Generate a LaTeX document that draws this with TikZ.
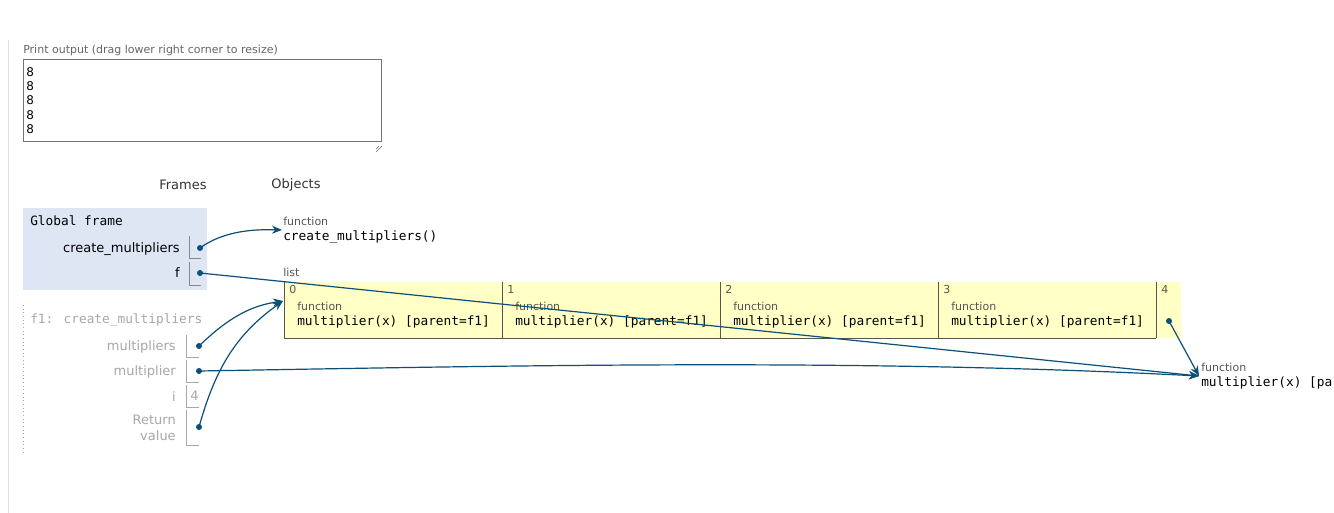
\documentclass[tikz,border=0pt]{standalone}
\usepackage{fontspec}
\setmainfont{DejaVu Sans}
\newfontfamily\monof{DejaVu Sans Mono}
\usetikzlibrary{arrows.meta}
\definecolor{arrowc}{HTML}{0B4F7A}
\definecolor{gfill}{HTML}{DDE6F2}
\definecolor{lyellow}{HTML}{FFFFC6}
\definecolor{txtgrey}{HTML}{555555}
\definecolor{inact}{HTML}{A8A8A8}
\definecolor{boxline}{HTML}{888888}
\definecolor{listline}{HTML}{555555}
\tikzset{
  lbl/.style={inner sep=0, font=\fontsize{9.75}{11.5}\selectfont, text=black},
  small/.style={inner sep=0, font=\fontsize{8.25}{10}\selectfont, text=txtgrey},
  mono/.style={inner sep=0, font=\monof\fontsize{9.6}{11}\selectfont, text=black},
  ptr/.style={draw=arrowc, line width=0.9pt, -{Stealth[length=7.5pt,width=6pt]}},
  dotn/.style={circle, fill=arrowc, inner sep=0, minimum size=4.5pt},
  gline/.style={draw=boxline, line width=0.75pt},
  iline/.style={draw=inact, line width=0.75pt},
}
\begin{document}
\begin{tikzpicture}[x=0.75pt,y=-0.75pt]
\clip (0,0) rectangle (1334,513);
\fill[white] (0,0) rectangle (1334,513);
% left rule
\draw[draw=black!12, line width=0.75pt] (8,40) -- (8,513);
% print output
\node[small, anchor=west, text=black!60] (ptitle) at (23,50) {Print output (drag lower right corner to resize)};
\draw[draw=black!55, line width=0.75pt, fill=white] (23,60) rectangle (381,142);
\foreach \yy/\nm in {72/a,86/b,100/c,115/d,129/e}{
  \node[lbl, anchor=west, font=\fontsize{9}{10}\selectfont] (out\nm) at (26,\yy) {8};
}
\foreach \k in {0,3,6}{
  \draw[black!60, line width=0.5pt] (382-\k,146) -- (376,152-\k);
}
% headings
\node[lbl, text=black!80] (frames) at (183,185) {Frames};
\node[lbl, text=black!80] (objects) at (296,185) {Objects};
% global frame
\fill[gfill] (23,208) rectangle (207,290);
\node[mono, anchor=west] (gtitle) at (30,221) {Global frame};
\node[lbl, anchor=east] (gcm) at (180,249) {create\_multipliers};
\draw[gline] (189,236) -- (189,259) -- (201,259);
\node[dotn] (dcm) at (200,248) {};
\node[lbl, anchor=east] (gf) at (180,273) {f};
\draw[gline] (189,262) -- (189,285) -- (201,285);
\node[dotn] (df) at (200,273) {};
% f1 frame
\draw[draw=inact, line width=0.75pt, dotted] (23,305) -- (23,452);
\node[mono, anchor=west, text=inact] (ftitle) at (30,320) {f1: create\_multipliers};
\node[lbl, anchor=east, text=inact] (fms) at (176,347) {multipliers};
\draw[iline] (186,335) -- (186,357) -- (199,357);
\node[dotn] (dms) at (199,346) {};
\node[lbl, anchor=east, text=inact] (fm) at (176,372) {multiplier};
\draw[iline] (186,360) -- (186,382) -- (199,382);
\node[dotn] (dm) at (199,371) {};
\node[lbl, anchor=east, text=inact] (fi) at (176,397) {i};
\draw[iline] (186,385) -- (186,407) -- (199,407);
\node[lbl, anchor=west, text=inact] (fiv) at (190,396) {4};
\node[lbl, anchor=east, align=right, text=inact] (frv) at (176,428) {Return\\value};
\draw[iline] (186,410) -- (186,445) -- (199,445);
\node[dotn] (drv) at (199,427) {};
% function object create_multipliers
\node[small, anchor=west] (fn1lab) at (283,221) {function};
\node[mono, anchor=west] (fn1) at (283,237) {create\_multipliers()};
\coordinate (fn1tip) at (282,230);
% list
\node[small, anchor=west] (listlab) at (283,272) {list};
\fill[lyellow] (284,282) rectangle (1181,338);
\draw[draw=listline, line width=0.75pt] (284,282) -- (284,338) -- (1156,338);
\foreach \xx in {502,720,938,1156}{
  \draw[draw=listline, line width=0.75pt] (\xx,282) -- (\xx,338);
}
\foreach \xx/\ii in {284/0,502/1,720/2,938/3,1156/4}{
  \node[small, anchor=west] (idx\ii) at (\xx+5,289) {\ii};
}
\foreach \xx/\ii in {297/0,515/1,733/2,951/3}{
  \node[small, anchor=west] (cf\ii) at (\xx,306) {function};
  \node[mono, anchor=west] (cm\ii) at (\xx,322) {multiplier(x) [parent=f1]};
}
\node[dotn] (d4) at (1169,321) {};
\coordinate (listtip) at (283,301);
% right function object
\node[small, anchor=west] (fn2lab) at (1201,367) {function};
\node[mono, anchor=west] (fn2) at (1201,383) {multiplier(x) [parent=f1]};
\coordinate (fn2tip) at (1199,376);
% pointers
\draw[ptr] (dcm.center) .. controls (222,232) and (250,229) .. (fn1tip);
\draw[ptr] (df.center) -- (fn2tip);
\draw[ptr] (d4.center) -- (fn2tip);
\draw[ptr] (dm.center) .. controls (500,366) and (850,358) .. (fn2tip);
\draw[ptr] (dms.center) .. controls (228,318) and (250,306) .. (listtip);
\draw[ptr] (drv.center) .. controls (215,370) and (235,335) .. (listtip);
\end{tikzpicture}
\end{document}
